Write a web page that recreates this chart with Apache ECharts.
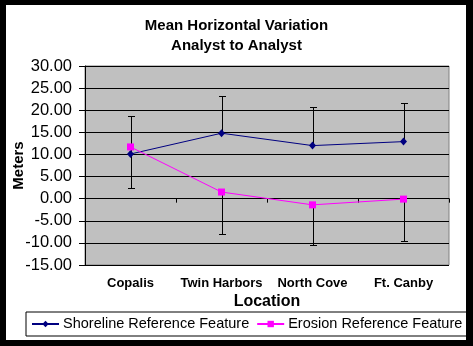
<!DOCTYPE html>
<html>
<head>
<meta charset="utf-8">
<script src="https://cdn.jsdelivr.net/npm/echarts@6/dist/echarts.min.js"></script>
<style>
  html, body { margin: 0; padding: 0; background: #000; }
  #chart { width: 473px; height: 346px; }
</style>
</head>
<body>
<div id="chart"></div>
<script>
// Locations along the coast
const categories = ['Copalis', 'Twin Harbors', 'North Cove', 'Ft. Canby'];
// Mean horizontal variation (m), analyst to analyst
const shoreline = [10.1, 14.8, 12.0, 12.9];
const erosion = [11.7, 1.5, -1.4, -0.1];
// Error bar ends: shoreline drawn upward, erosion drawn downward
const shorelineHigh = [18.8, 23.3, 20.7, 21.6];
const erosionLow = [2.5, -7.9, -10.5, -9.5];
// Value axis ticks
const yMin = -15, yMax = 30, yStep = 5;

const FONT = '"Liberation Sans", Arial, sans-serif';

function errorBar(params, api) {
  const x = api.value(0);
  const p0 = api.coord([x, api.value(1)]);
  const p1 = api.coord([x, api.value(2)]);
  const cx = Math.round(p0[0]) + 0.5;
  const cy = Math.round(p1[1]) + 0.5;
  const half = 3.5;
  const style = { stroke: '#000', lineWidth: 1 };
  return {
    type: 'group',
    children: [
      { type: 'line', shape: { x1: cx, y1: p0[1], x2: cx, y2: cy }, style },
      { type: 'line', shape: { x1: cx - half, y1: cy, x2: cx + half, y2: cy }, style }
    ]
  };
}

const chart = echarts.init(document.getElementById('chart'), null, { renderer: 'canvas' });
chart.setOption({
  backgroundColor: '#fff',
  animation: false,
  title: {
    text: 'Mean Horizontal Variation\nAnalyst to Analyst',
    left: 'center',
    top: 16,
    padding: 0,
    textStyle: { fontFamily: FONT, fontSize: 15, fontWeight: 'bold', color: '#000', lineHeight: 20 }
  },
  legend: {
    data: [
      { name: 'Shoreline Reference Feature' },
      { name: 'Erosion Reference Feature' }
    ],
    left: 26,
    top: 312,
    padding: [4, 5, 4, 5],
    itemGap: 7,
    itemWidth: 27,
    itemHeight: 8,
    borderColor: '#000',
    borderWidth: 1,
    borderRadius: 0,
    textStyle: { fontFamily: FONT, fontSize: 14.5, color: '#000', lineHeight: 16, padding: [0, 0, 0, -1] }
  },
  grid: {
    left: 85, top: 66, right: 24, bottom: 81,
    outerBoundsMode: 'none',
    containLabel: false,
    show: true,
    backgroundColor: '#c0c0c0',
    borderColor: '#808080',
    borderWidth: 1
  },
  xAxis: [
    {
      type: 'category',
      data: categories,
      boundaryGap: true,
      axisLine: { show: false, onZero: false },
      axisTick: { show: false },
      axisLabel: { interval: 0, fontFamily: FONT, fontSize: 13, fontWeight: 'bold', color: '#000', margin: 12 },
      name: 'Location',
      nameLocation: 'middle',
      nameGap: 29,
      nameMoveOverlap: false,
      nameTextStyle: { fontFamily: FONT, fontSize: 16, fontWeight: 'bold', color: '#000' }
    },
    {
      type: 'category',
      data: categories,
      position: 'bottom',
      boundaryGap: true,
      axisLine: { show: true, onZero: true, lineStyle: { color: '#000', width: 1 } },
      axisTick: { show: true, interval: 0, inside: false, length: 4, lineStyle: { color: '#000' } },
      axisLabel: { show: false }
    }
  ],
  yAxis: {
    type: 'value',
    min: yMin,
    max: yMax,
    interval: yStep,
    axisLine: { show: true, lineStyle: { color: '#000', width: 1 } },
    axisTick: { show: true, inside: false, length: 6, lineStyle: { color: '#000' } },
    splitLine: { show: true, lineStyle: { color: '#000', width: 1 } },
    axisLabel: {
      fontFamily: FONT, fontSize: 16.5, color: '#000', margin: 13,
      formatter: v => v.toFixed(2)
    },
    name: 'Meters',
    nameLocation: 'middle',
    nameGap: 59,
    nameRotate: 90,
    nameMoveOverlap: false,
    nameTextStyle: { fontFamily: FONT, fontSize: 15, fontWeight: 'bold', color: '#000' }
  },
  series: [
    {
      name: 'shoreline-error',
      type: 'custom',
      xAxisIndex: 0,
      z: 1,
      renderItem: errorBar,
      encode: { x: 0, y: [1, 2] },
      data: shoreline.map((v, i) => [i, v, shorelineHigh[i]])
    },
    {
      name: 'erosion-error',
      type: 'custom',
      xAxisIndex: 0,
      z: 1,
      renderItem: errorBar,
      encode: { x: 0, y: [1, 2] },
      data: erosion.map((v, i) => [i, v, erosionLow[i]])
    },
    {
      name: 'Shoreline Reference Feature',
      type: 'line',
      xAxisIndex: 0,
      z: 3,
      data: shoreline,
      symbol: 'diamond',
      symbolSize: [7, 8],
      lineStyle: { color: '#000080', width: 1 },
      itemStyle: { color: '#000080' }
    },
    {
      name: 'Erosion Reference Feature',
      type: 'line',
      xAxisIndex: 0,
      z: 3,
      data: erosion,
      symbol: 'rect',
      symbolSize: 7,
      lineStyle: { color: '#ff00ff', width: 1 },
      itemStyle: { color: '#ff00ff' }
    }
  ],
  graphic: [
    { type: 'rect', z: 100, shape: { x: 0, y: 0, width: 473, height: 5 }, style: { fill: '#000' } },
    { type: 'rect', z: 100, shape: { x: 0, y: 340, width: 473, height: 6 }, style: { fill: '#000' } },
    { type: 'rect', z: 100, shape: { x: 0, y: 0, width: 6, height: 346 }, style: { fill: '#000' } },
    { type: 'rect', z: 100, shape: { x: 466, y: 0, width: 7, height: 346 }, style: { fill: '#000' } }
  ]
});
</script>
</body>
</html>
